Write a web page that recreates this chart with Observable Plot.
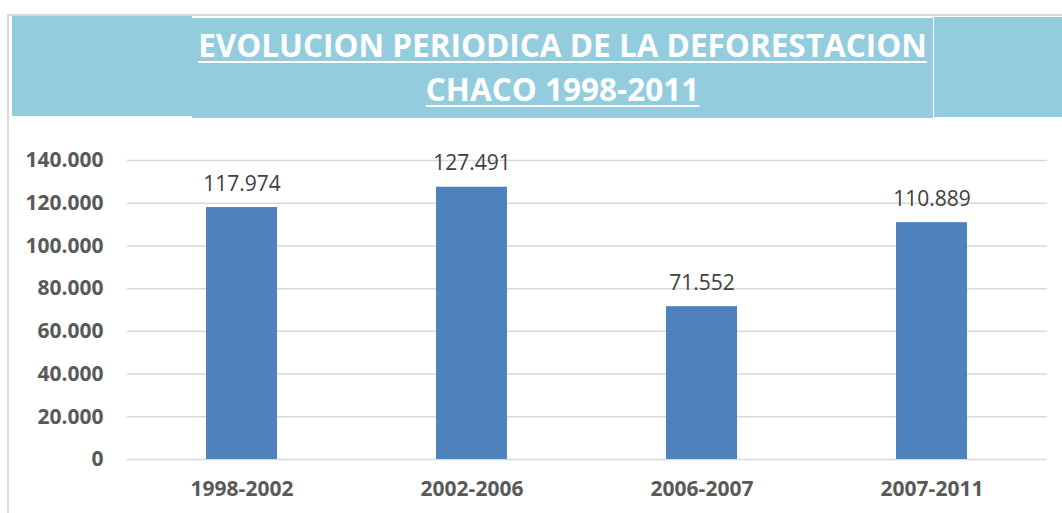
<!DOCTYPE html>
<html>
<head>
<meta charset="utf-8">
<script src="https://cdn.jsdelivr.net/npm/d3@7"></script>
<script src="https://cdn.jsdelivr.net/npm/@observablehq/plot@0.6"></script>
<style>
  html, body { margin: 0; padding: 0; background: #fff; }
  #wrap { position: relative; width: 1062px; height: 513px; overflow: hidden; font-family: "Open Sans", sans-serif; }
  .frameL { position: absolute; left: 7px; top: 15px; width: 2px; height: 600px; background: #d9d9d9; }
  .frameT { position: absolute; left: 7px; top: 14px; width: 1100px; height: 2px; background: #d9d9d9; }
  .bl { position: absolute; left: 12px; top: 16px; width: 180px; height: 100px; background: #93cddd; }
  .bc { position: absolute; left: 192px; top: 18px; width: 741px; height: 100px; background: #93cddd; }
  .sep { position: absolute; left: 933px; top: 17px; width: 1px; height: 101px; background: #ffffff; }
  .br { position: absolute; left: 934px; top: 17px; width: 130px; height: 100px; background: #93cddd; }
  #title { position: absolute; left: 192px; top: 23px; width: 741px; text-align: center; color: #fff;
           font-weight: 700; font-size: 31.5px; line-height: 44px; text-decoration: underline; text-decoration-thickness: 2px; text-underline-offset: 4px; }
  #chart { position: absolute; left: 0; top: 130px; }
</style>
</head>
<body>
<div id="wrap">
  <div class="frameL"></div>
  <div class="frameT"></div>
  <div class="bl"></div>
  <div class="bc"></div>
  <div class="br"></div>
  <div class="sep"></div>
  <div id="title">EVOLUCION PERIODICA DE LA DEFORESTACION<br>CHACO 1998-2011</div>
  <div id="chart"></div>
</div>
<script>
const periods = ["1998-2002", "2002-2006", "2006-2007", "2007-2011"];
const hectares = [117974, 127491, 71552, 110889];
const yTicks = [0, 20000, 40000, 60000, 80000, 100000, 120000, 140000];

const loc = d3.formatLocale({decimal: ",", thousands: ".", grouping: [3], currency: ["", ""]});
const fmt = loc.format(",d");

const data = periods.map((p, i) => ({period: p, value: hectares[i]}));

const chart = Plot.plot({
  width: 1062,
  height: 383,
  marginLeft: 127,
  marginRight: 15,
  marginTop: 30,
  marginBottom: 54,
  style: {fontFamily: "'Open Sans', sans-serif", background: "transparent"},
  x: {domain: periods, paddingInner: 0.69, paddingOuter: 0.345, label: null},
  y: {domain: [0, 140000], label: null},
  marks: [
    Plot.gridY(yTicks, {stroke: "#d9d9d9", strokeOpacity: 1, strokeWidth: 1.5}),
    Plot.barY(data, {x: "period", y: "value", fill: "#4f81bd"}),
    Plot.text(data, {x: "period", y: "value", text: d => fmt(d.value), lineAnchor: "bottom", dy: -17,
      fontSize: 21, fill: "#404040", fontWeight: 400}),
    Plot.axisY(yTicks, {tickSize: 0, tickPadding: 24, tickFormat: fmt, fontSize: 21, fontWeight: 700, fill: "#595959", label: null}),
    Plot.axisX({tickSize: 0, tickPadding: 22, fontSize: 21, fontWeight: 700, fill: "#595959", label: null})
  ]
});
document.getElementById("chart").appendChild(chart);
</script>
</body>
</html>
